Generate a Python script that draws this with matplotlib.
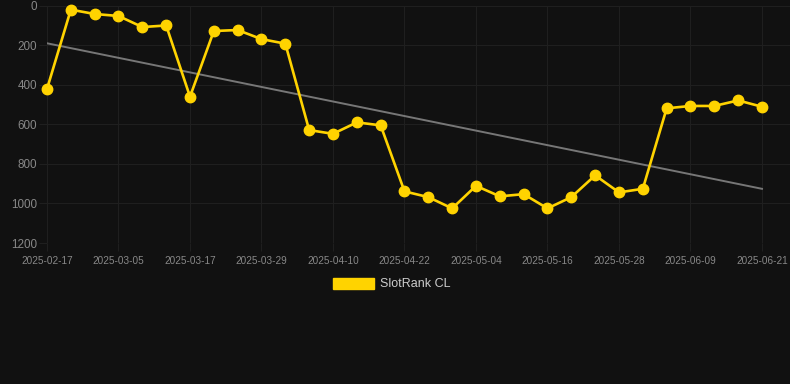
import matplotlib
matplotlib.use("Agg")
import matplotlib.pyplot as plt
from matplotlib.patches import Patch

dates = ["2025-02-17", "2025-02-22", "2025-02-28", "2025-03-05", "2025-03-09",
         "2025-03-13", "2025-03-17", "2025-03-21", "2025-03-25", "2025-03-29",
         "2025-04-02", "2025-04-06", "2025-04-10", "2025-04-14", "2025-04-18",
         "2025-04-22", "2025-04-26", "2025-04-30", "2025-05-04", "2025-05-08",
         "2025-05-12", "2025-05-16", "2025-05-20", "2025-05-24", "2025-05-28",
         "2025-06-01", "2025-06-05", "2025-06-09", "2025-06-13", "2025-06-17",
         "2025-06-21"]
rank = [421, 20, 42, 52, 108, 100, 460, 128, 123, 169, 192,
        629, 648, 590, 605, 939, 968, 1025, 911, 964, 953,
        1025, 968, 858, 944, 926, 519, 507, 507, 479, 511]
trend_x = [0, 30]
trend_y = [190, 926]
y_ticks = [0, 200, 400, 600, 800, 1000, 1200]

bg = "#111111"
grid = "#1f1f1f"
yellow = "#FFD300"

plt.rcParams['font.family'] = ['Liberation Sans', 'DejaVu Sans']

fig = plt.figure(figsize=(7.9, 3.84), dpi=100, facecolor=bg)
ax = fig.add_axes([47/790, 1 - 243/384, 1 - 47/790, (243 - 5.7)/384])
ax.set_facecolor(bg)

x = list(range(len(rank)))
ax.plot(trend_x, trend_y, color="#777777", lw=1.4, zorder=2)
ax.plot(x, rank, color=yellow, lw=1.9, marker="o", markersize=7.5,
        markerfacecolor=yellow, markeredgecolor=yellow, zorder=3,
        clip_on=False)

ax.set_ylim(1200, 0)
ax.set_xlim(0, 30 + 28/23.83)
ax.set_yticks(y_ticks)
ax.set_xticks(x[::3])
ax.set_xticklabels(dates[::3])

ax.grid(True, color=grid, lw=0.75)
for s in ax.spines.values():
    s.set_visible(False)
ax.tick_params(axis="y", colors=grid, labelcolor="#888888", labelsize=8.4,
               length=6, width=0.75, pad=1)
ax.tick_params(axis="x", colors=grid, labelcolor="#888888", labelsize=7.2,
               length=6, width=0.75, pad=3)

fig.legend(handles=[Patch(facecolor=yellow, edgecolor=yellow, label="SlotRank CL")],
           loc="center", bbox_to_anchor=(392/790, 1 - 284/384), frameon=False,
           fontsize=9, labelcolor="#cccccc", handlelength=3.3, handleheight=1.0,
           handletextpad=0.5)

fig.savefig("out.png", dpi=100, facecolor=bg)
